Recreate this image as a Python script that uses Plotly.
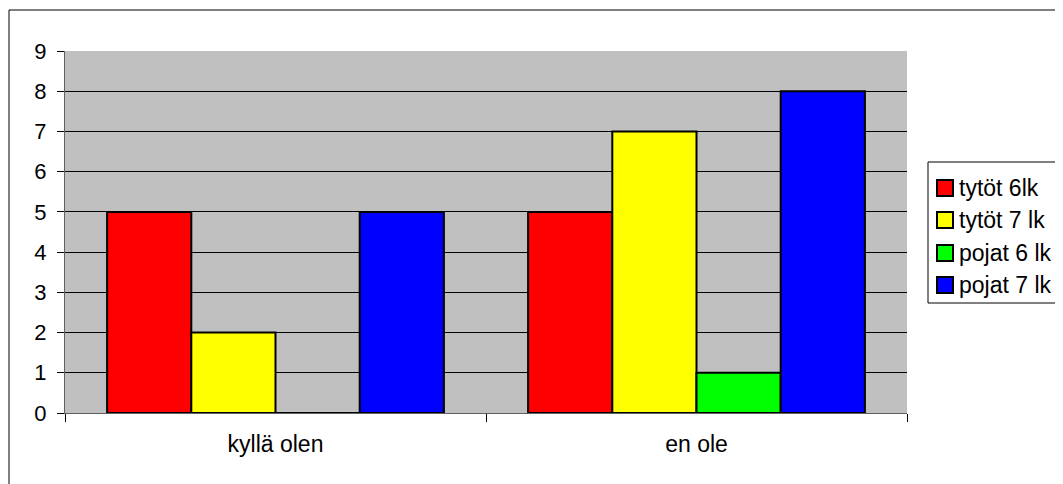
import plotly.graph_objects as go

categories = ["kyllä olen", "en ole"]
series_names = ["tytöt 6lk", "tytöt 7 lk", "pojat 6 lk", "pojat 7 lk"]
tytot_6lk = [5, 5]
tytot_7lk = [2, 7]
pojat_6lk = [0, 1]
pojat_7lk = [5, 8]
colors = ["#FF0000", "#FFFF00", "#00FF00", "#0000FF"]
y_ticks = [0, 1, 2, 3, 4, 5, 6, 7, 8, 9]

# page has an 8px body margin, so figure coords = page coords - 8
OFF = 8
W, H = 1063 - OFF, 484 - OFF
L, R, T, B = 65 - OFF, 907 - OFF, 51 - OFF, 413 - OFF
FONT = "Liberation Sans, Arial, sans-serif"

fig = go.Figure()
for name, vals, col in zip(series_names, [tytot_6lk, tytot_7lk, pojat_6lk, pojat_7lk], colors):
    fig.add_trace(go.Bar(
        x=categories, y=vals, name=name, showlegend=False,
        marker=dict(color=col, line=dict(color="black", width=2)),
    ))

def px(x):
    return (x - OFF - L) / (R - L)

def py(y):
    return (B - (y - OFF)) / (B - T)

shapes = [
    dict(type="rect", xref="paper", yref="paper",
         x0=px(9), x1=px(1200), y0=py(600), y1=py(10),
         line=dict(color="black", width=1), fillcolor="rgba(0,0,0,0)", layer="below"),
    dict(type="rect", xref="paper", yref="paper",
         x0=px(928), x1=px(1062), y0=py(303), y1=py(162),
         line=dict(color="black", width=1), fillcolor="white", layer="below"),
]
annotations = []
item_y = [188, 220, 253, 285]
sq = 16
for name, col, cy in zip(series_names, colors, item_y):
    shapes.append(dict(
        type="rect", xref="paper", yref="paper",
        x0=px(937), x1=px(937 + sq), y0=py(cy + sq / 2), y1=py(cy - sq / 2),
        line=dict(color="black", width=2), fillcolor=col, layer="above"))
    annotations.append(dict(
        text=name, xref="paper", yref="paper", x=px(957), y=py(cy),
        xanchor="left", yanchor="middle", showarrow=False,
        font=dict(family=FONT, size=23, color="black")))

fig.update_layout(
    width=W, height=H,
    margin=dict(l=L, r=W - R, t=T, b=H - B, autoexpand=False),
    paper_bgcolor="white",
    plot_bgcolor="#C0C0C0",
    barmode="group",
    bargap=0.2,
    bargroupgap=0,
    font=dict(family=FONT, size=22, color="black"),
    showlegend=False,
    xaxis=dict(
        type="category", tickson="boundaries", ticks="outside", ticklen=8,
        tickcolor="black", showline=True, linecolor="#606060", linewidth=1,
        showgrid=False, tickfont=dict(size=23), ticklabelstandoff=10,
    ),
    yaxis=dict(
        range=[0, 9], tickvals=y_ticks, ticks="outside", ticklen=7,
        tickcolor="black", showline=True, linecolor="#606060", linewidth=1,
        showgrid=True, gridcolor="black", gridwidth=1, zeroline=False,
        tickfont=dict(size=22), ticklabelstandoff=6,
    ),
    shapes=shapes,
    annotations=annotations,
)

fig.write_html("out.html")
